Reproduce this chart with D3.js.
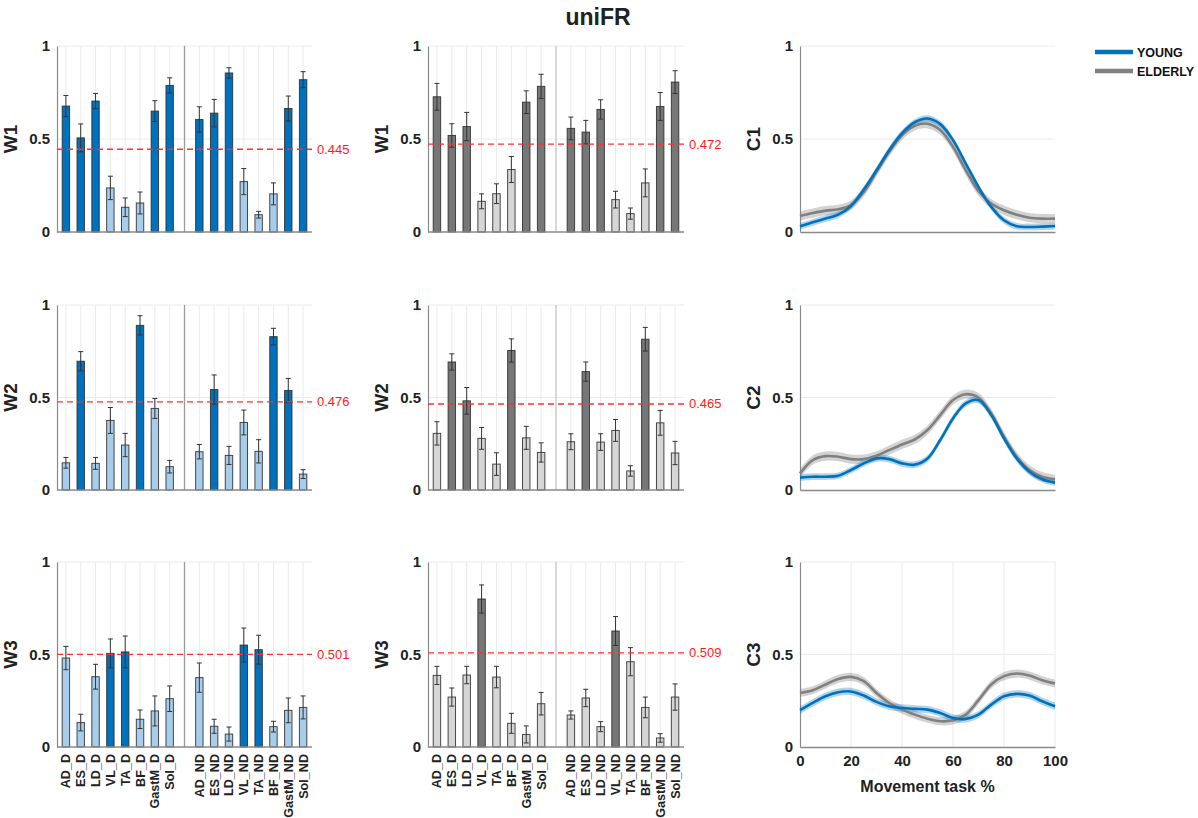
<!DOCTYPE html>
<html>
<head>
<meta charset="utf-8">
<script src="https://cdn.jsdelivr.net/npm/d3@7"></script>
<style>
  html, body { margin: 0; padding: 0; background: #fff; }
  svg { display: block; font-family: "Liberation Sans", Arial, Helvetica, sans-serif; }
</style>
</head>
<body>
<svg id="chart" width="1198" height="818"></svg>
<script>
// ---------------- DATA ----------------
const muscles = ["AD_D","ES_D","LD_D","VL_D","TA_D","BF_D","GastM_D","Sol_D",
                 "AD_ND","ES_ND","LD_ND","VL_ND","TA_ND","BF_ND","GastM_ND","Sol_ND"];
const rowLabels = ["W1","W2","W3"];
const curveLabels = ["C1","C2","C3"];
const yTicks = [0, 0.5, 1];
const xTicksPct = [0, 20, 40, 60, 80, 100];
const legendLabels = ["YOUNG","ELDERLY"];

// young weights
const w1Young    = [0.677,0.506,0.704,0.237,0.133,0.156,0.650,0.788, 0.605,0.639,0.855,0.271,0.093,0.205,0.664,0.819];
const w1YoungErr = [0.057,0.075,0.041,0.063,0.050,0.059,0.056,0.041, 0.068,0.074,0.028,0.070,0.018,0.059,0.067,0.043];
const w2Young    = [0.147,0.696,0.144,0.376,0.243,0.890,0.441,0.126, 0.207,0.543,0.187,0.365,0.209,0.829,0.538,0.086];
const w2YoungErr = [0.029,0.052,0.032,0.070,0.063,0.052,0.054,0.034, 0.039,0.079,0.049,0.067,0.063,0.045,0.065,0.024];
const w3Young    = [0.481,0.132,0.380,0.506,0.514,0.150,0.195,0.261, 0.375,0.112,0.070,0.551,0.526,0.110,0.198,0.214];
const w3YoungErr = [0.063,0.045,0.067,0.078,0.086,0.050,0.081,0.069, 0.079,0.038,0.038,0.092,0.078,0.029,0.067,0.062];
// elderly weights
const w1Elderly    = [0.727,0.519,0.567,0.165,0.206,0.336,0.698,0.783, 0.557,0.537,0.659,0.174,0.099,0.264,0.675,0.806];
const w1ElderlyErr = [0.072,0.063,0.076,0.040,0.053,0.070,0.061,0.065, 0.061,0.063,0.052,0.045,0.030,0.075,0.075,0.061];
const w2Elderly    = [0.306,0.692,0.482,0.279,0.140,0.754,0.282,0.203, 0.261,0.640,0.259,0.322,0.103,0.815,0.363,0.200];
const w2ElderlyErr = [0.063,0.044,0.072,0.059,0.061,0.063,0.062,0.052, 0.043,0.052,0.045,0.059,0.028,0.064,0.067,0.063];
const w3Elderly    = [0.387,0.270,0.389,0.800,0.378,0.128,0.068,0.234, 0.173,0.265,0.110,0.627,0.461,0.214,0.049,0.270];
const w3ElderlyErr = [0.049,0.049,0.047,0.076,0.058,0.054,0.046,0.061, 0.022,0.047,0.027,0.078,0.076,0.056,0.023,0.071];

const thresholdsYoung   = [0.445, 0.476, 0.501];
const thresholdsElderly = [0.472, 0.465, 0.509];

// activation profiles, sampled every 5 % of the movement task
const taskPct = [0,5,10,15,20,25,30,35,40,45,50,55,60,65,70,75,80,85,90,95,100];
const c1Young   = [0.031,0.052,0.072,0.093,0.140,0.228,0.332,0.440,0.530,0.590,0.610,0.580,0.494,0.368,0.242,0.135,0.063,0.031,0.027,0.029,0.032];
const c1Elderly = [0.086,0.102,0.115,0.122,0.144,0.214,0.323,0.431,0.520,0.571,0.582,0.548,0.458,0.332,0.219,0.153,0.117,0.093,0.077,0.072,0.072];
const c2Young   = [0.067,0.072,0.072,0.077,0.108,0.144,0.171,0.167,0.144,0.137,0.170,0.270,0.387,0.468,0.486,0.405,0.279,0.171,0.099,0.058,0.040];
const c2Elderly = [0.090,0.162,0.183,0.180,0.167,0.167,0.185,0.216,0.246,0.273,0.324,0.405,0.486,0.518,0.500,0.414,0.288,0.180,0.108,0.072,0.058];
const c3Young   = [0.199,0.238,0.274,0.296,0.300,0.278,0.244,0.220,0.211,0.206,0.202,0.184,0.157,0.152,0.175,0.229,0.274,0.287,0.278,0.247,0.220];
const c3Elderly = [0.292,0.307,0.338,0.368,0.379,0.356,0.292,0.238,0.202,0.175,0.153,0.139,0.144,0.175,0.253,0.338,0.383,0.397,0.386,0.361,0.343];
const curveSEYoung   = [0.018, 0.018, 0.020];
const curveSEElderly = [0.025, 0.025, 0.022];

const youngW   = [[w1Young, w1YoungErr],[w2Young, w2YoungErr],[w3Young, w3YoungErr]];
const elderlyW = [[w1Elderly, w1ElderlyErr],[w2Elderly, w2ElderlyErr],[w3Elderly, w3ElderlyErr]];
const youngC   = [c1Young, c2Young, c3Young];
const elderlyC = [c1Elderly, c2Elderly, c3Elderly];

// ---------------- STYLE / LAYOUT ----------------
const colors = {
  young:   { dark: "#0072BD", light: "#A7CDEA", line: "#0072BD", band: "rgba(0,114,189,0.30)" },
  elderly: { dark: "#777777", light: "#D6D6D6", line: "#808080", band: "rgba(128,128,128,0.35)" }
};
const rows = [ {y0: 232, y1: 46}, {y0: 490, y1: 305}, {y0: 747, y1: 562} ];
const cols = [ {x0: 57, x1: 312}, {x0: 428, x1: 684}, {x0: 800, x1: 1055} ];

const svg = d3.select("#chart");

svg.append("text").attr("x", 598).attr("y", 25).attr("text-anchor", "middle")
  .attr("font-size", 23).attr("font-weight", "bold").attr("fill", "#222").text("uniFR");

const slotPos = i => (i < 8 ? i + 1 : i + 2);

function yAxisCommon(g, y, col, label) {
  g.selectAll(".hg").data(yTicks.filter(t => t > 0)).join("line")
    .attr("x1", col.x0).attr("x2", col.x1)
    .attr("y1", d => y(d)).attr("y2", d => y(d))
    .attr("stroke", "#ebebeb").attr("stroke-width", 1);
  const ax = g.append("g").attr("transform", `translate(${col.x0},0)`)
    .call(d3.axisLeft(y).tickValues(yTicks).tickFormat(d => d === 0.5 ? "0.5" : d3.format("d")(d))
      .tickSize(0).tickPadding(7));
  ax.select(".domain").attr("stroke", "#8a8a8a").attr("stroke-width", 1.2);
  ax.selectAll("text").attr("font-size", 15).attr("font-weight", "bold").attr("fill", "#222")
    .attr("font-family", "Liberation Sans, Arial, sans-serif");
  g.append("text")
    .attr("transform", `translate(${col.x0 - 40},${(y(0)+y(1))/2}) rotate(-90)`)
    .attr("text-anchor", "middle").attr("font-size", 19).attr("font-weight", "bold").attr("fill", "#222")
    .text(label);
}

function barPanel(r, c, group, vals, errs, thr) {
  const row = rows[r], col = cols[c];
  const g = svg.append("g");
  const x = d3.scaleLinear().domain([0.4, 17.6]).range([col.x0, col.x1]);
  const y = d3.scaleLinear().domain([0, 1]).range([row.y0, row.y1]);
  const bw = x(0.5) - x(0);
  const col_ = colors[group];

  g.selectAll(".vg").data(muscles).join("line")
    .attr("x1", (d,i) => x(slotPos(i))).attr("x2", (d,i) => x(slotPos(i)))
    .attr("y1", y(0)).attr("y2", y(1))
    .attr("stroke", "#ebebeb").attr("stroke-width", 1);
  yAxisCommon(g, y, col, rowLabels[r]);
  g.append("line").attr("x1", x(9)).attr("x2", x(9)).attr("y1", y(0)).attr("y2", y(1))
    .attr("stroke", c === 0 ? "#9a9a9a" : "#c4c4c4").attr("stroke-width", 1.3);

  g.selectAll(".bar").data(vals).join("rect")
    .attr("x", (d,i) => x(slotPos(i)) - bw/2)
    .attr("width", bw)
    .attr("y", d => y(d)).attr("height", d => y(0) - y(d))
    .attr("fill", d => d >= thr ? col_.dark : col_.light)
    .attr("stroke", "#2b2b2b").attr("stroke-opacity", 0.85).attr("stroke-width", 1);

  const eg = g.append("g").attr("stroke", "#333").attr("stroke-width", 1);
  vals.forEach((v, i) => {
    const xc = x(slotPos(i));
    const lo = v - errs[i], hi = v + errs[i];
    eg.append("line").attr("x1", xc).attr("x2", xc).attr("y1", y(lo)).attr("y2", y(hi));
    eg.append("line").attr("x1", xc-2.5).attr("x2", xc+2.5).attr("y1", y(lo)).attr("y2", y(lo));
    eg.append("line").attr("x1", xc-2.5).attr("x2", xc+2.5).attr("y1", y(hi)).attr("y2", y(hi));
  });

  g.append("line").attr("x1", col.x0).attr("x2", col.x1).attr("y1", y(0)).attr("y2", y(0))
    .attr("stroke", "#8a8a8a").attr("stroke-width", 1.5);

  g.append("line").attr("x1", col.x0).attr("x2", col.x1).attr("y1", y(thr)).attr("y2", y(thr))
    .attr("stroke", "#ff3030").attr("stroke-width", 1.3).attr("stroke-dasharray", "6,4");
  g.append("text").attr("x", col.x1 + 5).attr("y", y(thr) + 4.5)
    .attr("font-size", 13).attr("fill", "#ff1a1a").text(d3.format(".3f")(thr));

  if (r === 2) {
    g.selectAll(".xl").data(muscles).join("text")
      .attr("transform", (d,i) => `translate(${x(slotPos(i)) + 4.5},${y(0) + 7}) rotate(-90)`)
      .attr("text-anchor", "end").attr("font-size", 12.6).attr("font-weight", "bold").attr("fill", "#222")
      .text(d => d);
  }
}

function curvePanel(r) {
  const row = rows[r], col = cols[2];
  const g = svg.append("g");
  const x = d3.scaleLinear().domain([0, 100]).range([col.x0, col.x1]);
  const y = d3.scaleLinear().domain([0, 1]).range([row.y0, row.y1]);
  if (r === 2) {
    g.selectAll(".vg").data(xTicksPct.filter(t => t > 0)).join("line")
      .attr("x1", d => x(d)).attr("x2", d => x(d)).attr("y1", y(0)).attr("y2", y(1))
      .attr("stroke", "#ebebeb").attr("stroke-width", 1);
  }
  yAxisCommon(g, y, col, curveLabels[r]);

  const series = [
    { vals: elderlyC[r], se: curveSEElderly[r], c: colors.elderly },
    { vals: youngC[r],   se: curveSEYoung[r],   c: colors.young }
  ];
  const curve = d3.curveCatmullRom.alpha(0.5);
  series.forEach(s => {
    const area = d3.area().x((d,i) => x(taskPct[i]))
      .y0(d => y(d - s.se)).y1(d => y(d + s.se)).curve(curve);
    g.append("path").datum(s.vals).attr("d", area).attr("fill", s.c.band).attr("stroke", "none");
  });
  series.forEach(s => {
    const line = d3.line().x((d,i) => x(taskPct[i])).y(d => y(d)).curve(curve);
    g.append("path").datum(s.vals).attr("d", line).attr("fill", "none")
      .attr("stroke", s.c.line).attr("stroke-width", 2.6);
  });

  const bx = g.append("g").attr("transform", `translate(0,${y(0)})`)
    .call(d3.axisBottom(x).tickValues(r === 2 ? xTicksPct : []).tickSize(0).tickPadding(8));
  bx.select(".domain").attr("stroke", "#8a8a8a").attr("stroke-width", 1.5);
  bx.selectAll("text").attr("font-size", 15).attr("font-weight", "bold").attr("fill", "#222")
    .attr("font-family", "Liberation Sans, Arial, sans-serif");
  if (r === 2) {
    g.append("text").attr("x", (col.x0 + col.x1)/2).attr("y", y(0) + 45)
      .attr("text-anchor", "middle").attr("font-size", 16).attr("font-weight", "bold").attr("fill", "#222")
      .text("Movement task %");
  }
}

for (let r = 0; r < 3; r++) {
  barPanel(r, 0, "young",   youngW[r][0],   youngW[r][1],   thresholdsYoung[r]);
  barPanel(r, 1, "elderly", elderlyW[r][0], elderlyW[r][1], thresholdsElderly[r]);
  curvePanel(r);
}

const lg = svg.append("g");
[colors.young.line, colors.elderly.line].forEach((c, i) => {
  lg.append("line").attr("x1", 1095).attr("x2", 1133).attr("y1", 52 + i*19).attr("y2", 52 + i*19)
    .attr("stroke", c).attr("stroke-width", 4.5);
  lg.append("text").attr("x", 1137).attr("y", 56.5 + i*19)
    .attr("font-size", 12.5).attr("font-weight", "bold").attr("fill", "#111").text(legendLabels[i]);
});
</script>
</body>
</html>
